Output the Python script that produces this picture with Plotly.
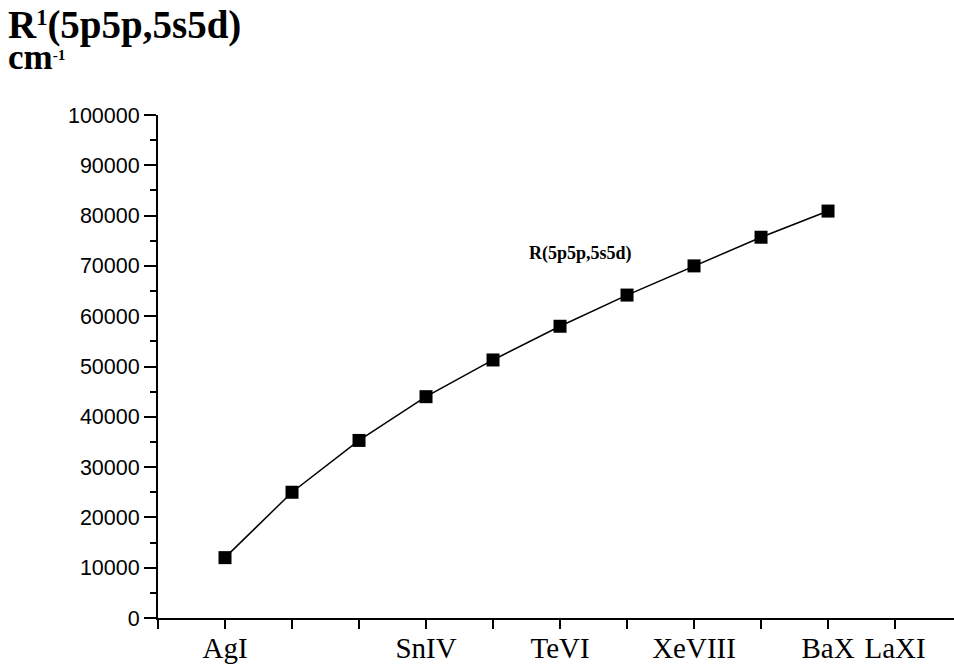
import plotly.graph_objects as go

categories = ["AgI", "CdII", "InIII", "SnIV", "SbV", "TeVI", "IVII", "XeVIII", "CsIX", "BaX", "LaXI"]
shown_labels = ["AgI", "", "", "SnIV", "", "TeVI", "", "XeVIII", "", "BaX", "LaXI"]
r1_values = [12000, 25000, 35300, 44000, 51300, 58000, 64200, 70000, 75700, 80900]
y_ticks = [0, 10000, 20000, 30000, 40000, 50000, 60000, 70000, 80000, 90000, 100000]

x_idx = list(range(len(r1_values)))
tick_positions = [-1] + list(range(len(categories)))
tick_text = [""] + shown_labels

fig = go.Figure()
fig.add_trace(go.Scatter(
    x=x_idx, y=r1_values, mode="lines+markers",
    line=dict(color="black", width=1.5),
    marker=dict(symbol="square", size=13, color="black"),
    showlegend=False,
    text=categories[:len(r1_values)],
))

serif = "Liberation Serif"
sans = "Liberation Sans"
plot_w = 954 - 158
plot_h = 618 - 115

fig.update_layout(
    width=954, height=665,
    margin=dict(l=158, r=0, t=115, b=47, autoexpand=False),
    paper_bgcolor="white", plot_bgcolor="white",
    xaxis=dict(
        range=[-1, 10.88], tickmode="array", tickvals=tick_positions, ticktext=tick_text,
        ticks="outside", ticklen=9, tickwidth=2, tickcolor="black", automargin=False,
        ticklabelstandoff=-6,
        showline=True, linecolor="black", linewidth=2, showgrid=False, zeroline=False,
        tickfont=dict(family=serif, size=29, color="black"),
    ),
    yaxis=dict(
        range=[0, 100000], tickmode="array", tickvals=y_ticks,
        ticktext=[str(v) for v in y_ticks], automargin=False,
        ticks="outside", ticklen=12, tickwidth=2, tickcolor="black",
        minor=dict(dtick=5000, tick0=0, ticks="outside", ticklen=6, tickwidth=2, tickcolor="black", showgrid=False),
        showline=True, linecolor="black", linewidth=2, showgrid=False, zeroline=False,
        tickfont=dict(family=sans, size=21.5, color="black"),
    ),
    annotations=[
        dict(text="<b>R<span style='font-size:32px'><sup>1</sup></span>(5p5p,5s5d)</b>", xref="paper", yref="paper",
             x=-152/plot_w, y=1 + (115 - 1) / plot_h, xanchor="left", yanchor="top",
             showarrow=False, font=dict(family=serif, size=39, color="black")),
        dict(text="<b>cm<span style='font-size:22px'><sup>-1</sup></span></b>", xref="paper", yref="paper",
             x=-152/plot_w, y=1 + (115 - 36) / plot_h, xanchor="left", yanchor="top",
             showarrow=False, font=dict(family=serif, size=35, color="black")),
        dict(text="<b>R(5p5p,5s5d)</b>", x=5.3, y=72400, xref="x", yref="y",
             showarrow=False, font=dict(family=serif, size=18, color="black")),
    ],
)

fig.write_html("out.html", config={"displayModeBar": False},
               post_script="document.body.style.margin='0';document.body.style.overflow='hidden';")
